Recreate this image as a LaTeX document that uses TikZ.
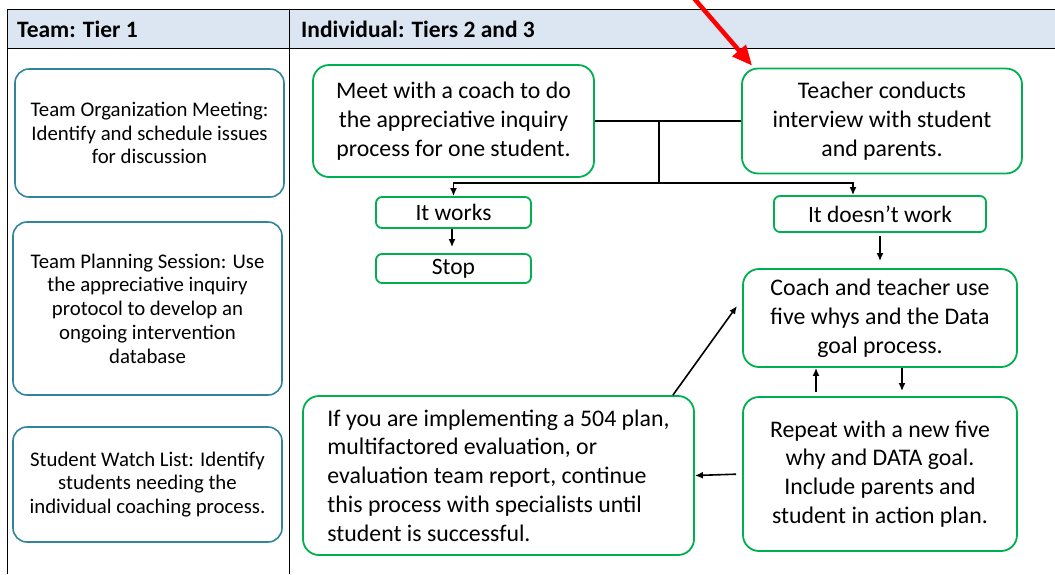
\documentclass[tikz,border=0pt]{standalone}
\usepackage{fontspec}
\setmainfont{Carlito}
\usetikzlibrary{arrows.meta}
\definecolor{headblue}{RGB}{220,230,242}
\definecolor{boxgreen}{RGB}{0,176,80}
\definecolor{boxteal}{RGB}{49,132,155}
\begin{document}
\begin{tikzpicture}[x=1pt,y=-1pt]
	    \tikzset{>={Latex[length=8pt,width=7pt]},
	      teambox/.style={draw=boxteal, line width=1.6pt, rounded corners=14pt, align=center,
	        minimum width=269pt, font=\fontsize{20.8}{23.7}\selectfont},
	      flowbox/.style={draw=boxgreen, line width=1.8pt, rounded corners=16pt, align=center,
	        font=\fontsize{23.8}{28.8}\selectfont},
	      smallbox/.style={draw=boxgreen, line width=1.8pt, rounded corners=6pt, align=center,
	        inner sep=0pt, font=\fontsize{23.5}{26}\selectfont},
	      headtext/.style={anchor=west, inner sep=0pt, font=\bfseries\fontsize{23.5}{26}\selectfont},
	      link/.style={line width=1.6pt}}
	    \useasboundingbox (0,0) rectangle (1055,574);
	    % table frame
	    \fill[headblue] (7,9) rectangle (1055,48);
	    \draw (7,574) -- (7,9) -- (1055,9);
	    \draw (7,48) -- (1055,48);
	    \draw (289,9) -- (289,574);
	    \node[headtext] (teamhead) at (17,29) {Team: Tier 1};
	    \node[headtext] (indhead) at (301,29) {Individual: Tiers 2 and 3};
	    % team column
	    \node[teambox, minimum height=128pt] (org) at (149.5,133) {Team Organization Meeting:\\ Identify and schedule issues\\ for discussion};
	    \node[teambox, minimum height=173pt] (plan) at (147.5,308.5) {Team Planning Session: Use\\ the appreciative inquiry\\ protocol to develop an\\ ongoing intervention\\ database};
	    \node[teambox, minimum height=115pt] (watch) at (147.5,484.5) {Student Watch List: Identify\\ students needing the\\ individual coaching process.};
	    % individual column
	    \node[flowbox, minimum width=281pt, minimum height=112pt] (meet) at (453.5,121) {Meet with a coach to do\\ the appreciative inquiry\\ process for one student.};
	    \node[flowbox, minimum width=280pt, minimum height=105pt] (teacher) at (882,121) {Teacher conducts\\ interview with student\\ and parents.};
	    \node[smallbox, minimum width=155pt, minimum height=31pt] (works) at (453.5,212.5) {It works};
	    \node[smallbox, minimum width=155pt, minimum height=29pt] (stop) at (453.5,268.5) {Stop};
	    \node[smallbox, minimum width=212pt, minimum height=36pt] (doesnt) at (880,214) {It doesn’t work};
	    \node[flowbox, minimum width=274pt, minimum height=98pt] (coach) at (880,318) {Coach and teacher use\\ five whys and the Data\\ goal process.};
	    \node[flowbox, minimum width=274pt, minimum height=154pt] (repeat) at (880,474) {Repeat with a new five\\ why and DATA goal.\\ Include parents and\\ student in action plan.};
	    \node[flowbox, align=left, minimum width=391pt, minimum height=159pt] (ifbox) at (498.5,475.5) {If you are implementing a 504 plan,\\ multifactored evaluation, or\\ evaluation team report, continue\\ this process with specialists until\\ student is successful.};
	    % connectors
	    \coordinate (split) at (659,121);
	    \coordinate (bar) at (659,183);
	    \coordinate (aim) at (737,306);
	    \draw[link] (meet.east) -- (teacher.west);
	    \draw[link] (split) -- (bar);
	    \draw[link, ->] (bar) -| (works.north);
	    \draw[link, ->] (bar) -| ([xshift=-27pt]doesnt.north);
	    \draw[link, ->] ([xshift=-1.5pt]works.south) -- ([xshift=-1.5pt,yshift=6pt]stop.north);
	    \draw[link, ->, shorten <=3pt, shorten >=7pt] (doesnt) -- (coach);
	    \draw[link, ->, shorten <=4pt] ([xshift=-64pt]repeat.north) -- ([xshift=-64pt]coach.south);
	    \draw[link, ->, shorten >=5pt] ([xshift=22pt]coach.south) -- ([xshift=22pt]repeat.north);
	    \draw[link, ->, shorten <=6pt] (repeat.west) -- (ifbox.east);
	    \draw[link, ->] ([xshift=-22pt]ifbox.north east) -- (aim);
	    % red pointer
	    \coordinate (redtail) at (692,-4);
	    \draw[-{Triangle[length=20pt,width=17pt]}, red, line width=4.5pt] (redtail) -- ([shift={(11,-2)}]teacher.north west);
\end{tikzpicture}
\end{document}
